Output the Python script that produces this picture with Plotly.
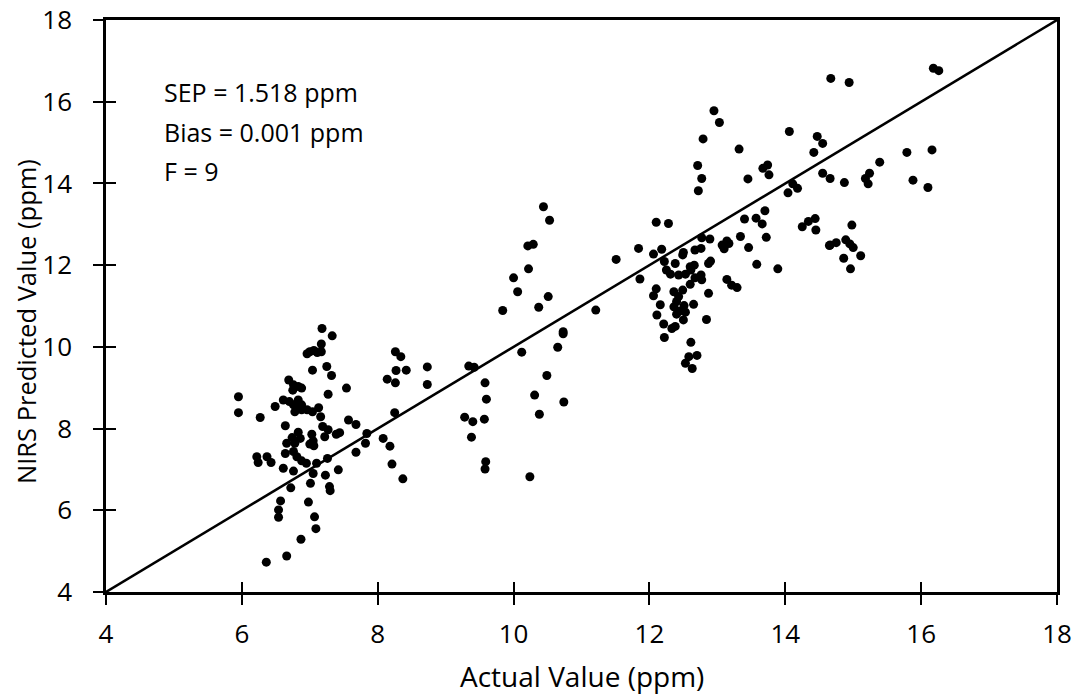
# NIRS prediction vs actual scatter

import plotly.graph_objects as go

# Actual values (ppm)
actual = [
    # low cluster, upper part
    7.18, 7.33, 7.17, 6.96, 7.00, 7.06, 7.11, 7.17,
    5.95, 5.95,
    7.84, 7.82, 8.08, 8.18, 8.21, 8.37,
    7.01, 6.72, 7.29, 7.30,
    6.57, 6.54, 6.54, 6.98, 7.07, 7.09, 6.87, 6.66, 6.36,
    8.26, 8.34, 8.27, 8.42, 8.14, 8.26, 8.25,
    # low cluster, dense part
    6.69, 6.76, 6.75, 6.83, 6.88,
    7.04, 7.25, 7.32, 7.54, 7.27,
    6.61, 6.70, 6.76, 6.83, 6.88, 6.81, 6.88, 6.78,
    6.96, 7.04, 7.13,
    6.49, 6.27, 7.16, 7.57, 7.68,
    6.64, 7.19, 7.27, 7.22, 7.39, 7.44,
    6.83, 6.74, 6.66, 6.78, 6.86,
    7.03, 7.05, 7.00, 7.06,
    6.64, 6.76, 6.81, 6.88, 6.95,
    7.10, 7.26,
    6.22, 6.24, 6.37, 6.43,
    6.61, 6.76, 7.05, 7.23, 7.42,
    7.68,
    # middle
    10.44, 10.53, 10.21, 10.29, 10.22, 10.00, 10.06, 10.51, 10.37, 9.84,
    11.21, 10.73, 10.73, 10.65, 10.12, 8.73, 8.73, 9.34, 9.42, 9.58,
    9.60, 10.49, 10.31, 10.38, 10.74, 9.28, 9.40, 9.38, 9.57, 9.59,
    9.58, 10.24,
    # high cluster, outer part
    12.95, 13.03, 12.79, 14.06, 14.47, 14.55, 14.42, 13.32, 12.71, 12.77,
    12.72, 13.45, 13.67, 13.74, 13.76, 14.55, 14.11, 14.18, 14.04, 13.70,
    13.40, 13.57, 13.66, 12.10, 12.28, 14.25, 14.34, 14.44, 14.45, 14.65,
    13.72, 13.58, 13.89, 12.58, 12.70, 12.53, 12.63, 11.51,
    # high cluster, dense part
    11.84, 12.06, 12.18, 12.50, 12.49, 12.67, 12.76, 12.77, 12.89,
    13.07, 13.14, 13.10, 13.17, 13.34, 13.46,
    12.22, 12.25, 12.31, 12.38, 12.43, 12.53, 12.60, 12.66, 12.61,
    12.87, 12.90, 11.86, 12.67, 12.76, 12.77, 12.60,
    13.14, 13.21, 13.29, 12.10, 12.06,
    12.36, 12.43, 12.49, 12.40, 12.87, 12.16,
    12.36, 12.45, 12.51, 12.65, 12.11, 12.40, 12.53,
    12.21, 12.50, 12.84, 12.33, 12.38, 12.22, 12.61,
    # top right
    14.67, 14.94, 16.18, 16.26, 15.79, 16.16, 15.39, 15.24, 15.18, 15.22,
    14.66, 14.87, 15.88, 16.10, 14.98, 14.66, 14.75, 14.89, 14.95, 15.00,
    15.11, 14.86, 14.96,
]

# NIRS predicted values (ppm)
predicted = [
    10.45, 10.27, 10.07, 9.83, 9.88, 9.91, 9.86, 9.88,
    8.78, 8.39,
    7.88, 7.64, 7.76, 7.57, 7.13, 6.77,
    6.66, 6.55, 6.58, 6.48,
    6.23, 6.01, 5.83, 6.20, 5.84, 5.55, 5.29, 4.88, 4.73,
    9.88, 9.76, 9.42, 9.43, 9.21, 9.12, 8.39,
    9.19, 9.07, 8.94, 9.03, 8.99,
    9.43, 9.52, 9.30, 8.99, 8.84,
    8.70, 8.66, 8.58, 8.70, 8.58, 8.50, 8.46, 8.41,
    8.46, 8.41, 8.51,
    8.54, 8.27, 8.29, 8.21, 8.10,
    8.07, 8.05, 7.97, 7.80, 7.86, 7.90,
    7.91, 7.78, 7.64, 7.64, 7.76,
    7.86, 7.70, 7.62, 7.58,
    7.39, 7.44, 7.31, 7.21, 7.15,
    7.15, 7.27,
    7.31, 7.17, 7.31, 7.17,
    7.03, 6.96, 6.90, 6.86, 6.99,
    7.42,
    13.43, 13.10, 12.47, 12.51, 11.91, 11.69, 11.35, 11.23, 10.97, 10.89,
    10.90, 10.37, 10.32, 9.99, 9.87, 9.51, 9.08, 9.53, 9.50, 9.12,
    8.72, 9.30, 8.82, 8.35, 8.65, 8.28, 8.17, 7.79, 8.23, 7.19,
    7.01, 6.82,
    15.78, 15.49, 15.09, 15.27, 15.15, 14.98, 14.76, 14.84, 14.44, 14.12,
    13.82, 14.11, 14.37, 14.45, 14.21, 14.25, 13.99, 13.88, 13.77, 13.33,
    13.13, 13.15, 13.01, 13.05, 13.02, 12.94, 13.07, 13.14, 12.86, 12.48,
    12.68, 12.02, 11.91, 9.76, 9.79, 9.60, 9.47, 12.14,
    12.41, 12.27, 12.39, 12.31, 12.25, 12.37, 12.41, 12.67, 12.64,
    12.49, 12.59, 12.40, 12.53, 12.70, 12.43,
    12.09, 11.88, 11.78, 12.04, 11.76, 11.78, 11.96, 12.00, 11.88,
    12.04, 12.10, 11.66, 11.69, 11.76, 11.64, 11.53,
    11.65, 11.51, 11.45, 11.42, 11.25,
    11.35, 11.23, 11.39, 11.11, 11.31, 11.03,
    10.98, 10.88, 11.01, 11.04, 10.78, 10.80, 10.85,
    10.56, 10.66, 10.67, 10.45, 10.50, 10.23, 10.11,
    16.57, 16.47, 16.82, 16.76, 14.76, 14.82, 14.52, 14.25, 14.12, 13.99,
    14.12, 14.02, 14.08, 13.90, 12.98, 12.49, 12.55, 12.62, 12.52, 12.43,
    12.23, 12.17, 11.91,
]

# 1:1 line ends
line_x = [4, 18]
line_y = [4, 18]

tick_vals = [4, 6, 8, 10, 12, 14, 16, 18]

stats_lines = ["SEP = 1.518 ppm", "Bias = 0.001 ppm", "F = 9"]
stats_y = [16.25, 15.27, 14.3]

font_name = "Open Sans"

fig = go.Figure()

fig.add_trace(go.Scatter(
    x=actual, y=predicted, mode="markers",
    marker=dict(color="black", size=9),
    showlegend=False,
))

# line on overlay axes, which also give the inner half of the ticks
fig.add_trace(go.Scatter(
    x=line_x, y=line_y, mode="lines",
    line=dict(color="black", width=2.5),
    xaxis="x2", yaxis="y2", showlegend=False,
))

axis_common = dict(
    range=[4, 18], tickvals=tick_vals, showgrid=False, zeroline=False,
    linecolor="black", linewidth=2.5, tickcolor="black", tickwidth=1.5, ticklen=10,
    automargin=False, ticklabeloverflow="allow",
)

fig.update_layout(
    width=1086, height=696,
    margin=dict(l=106, r=29, t=20, b=104),
    paper_bgcolor="white", plot_bgcolor="white",
    font=dict(family=font_name, color="black"),
    xaxis=dict(**axis_common, ticks="outside", mirror=True,
               tickfont=dict(size=26), ticklabelstandoff=7),
    yaxis=dict(**axis_common, ticks="outside", mirror=True,
               tickfont=dict(size=26), ticklabelstandoff=16),
    xaxis2=dict(**axis_common, ticks="inside", overlaying="x", showticklabels=False,
                showline=False),
    yaxis2=dict(**axis_common, ticks="inside", overlaying="y", showticklabels=False,
                showline=False),
)

# axis titles
fig.add_annotation(x=0.5, y=0, xref="paper", yref="paper", text="Actual Value (ppm)",
                   showarrow=False, xanchor="center", yanchor="middle", yshift=-84,
                   font=dict(size=28))
fig.add_annotation(x=0, y=0.5, xref="paper", yref="paper", text="NIRS Predicted Value (ppm)",
                   showarrow=False, xanchor="center", yanchor="middle", xshift=-80,
                   yshift=-16, textangle=-90, font=dict(size=25.5))

for txt, yv in zip(stats_lines, stats_y):
    fig.add_annotation(x=4.83, y=yv, text=txt, showarrow=False,
                       xanchor="left", yanchor="middle", font=dict(size=25))

# drop the page's default body margin so the figure sits at the window corner
fig.write_html("out.html", config={"displayModeBar": False},
               post_script="document.body.style.margin = '0';")
